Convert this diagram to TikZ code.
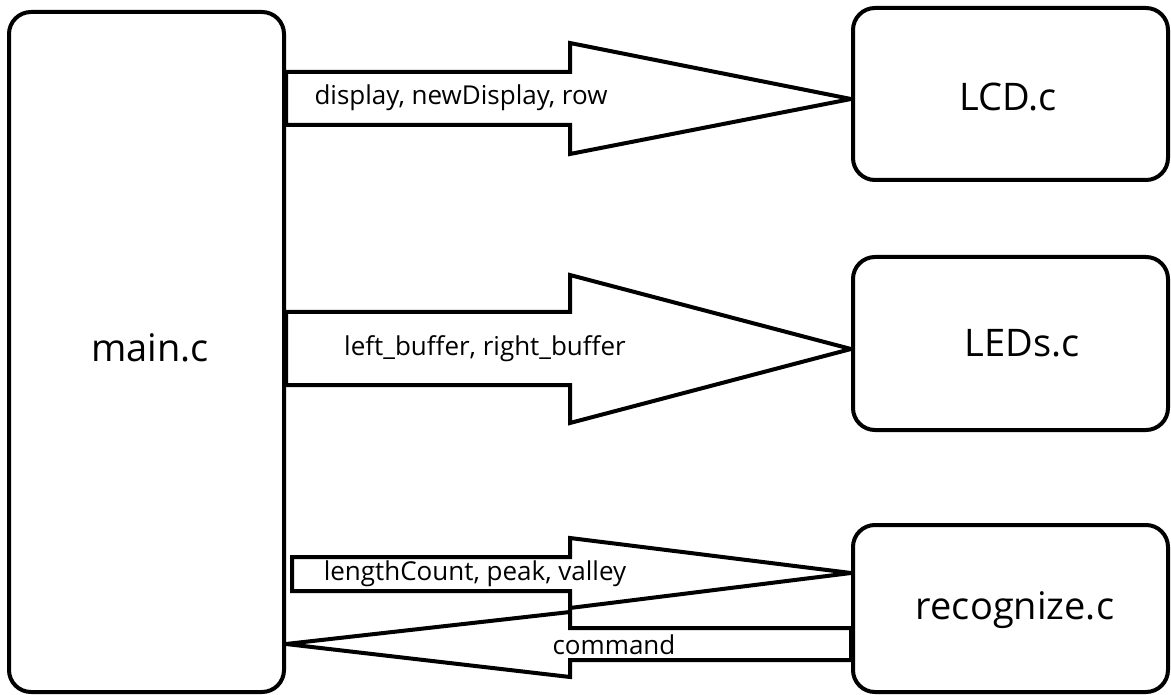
\documentclass[tikz,border=0pt]{standalone}
\usepackage{fontspec}
\setmainfont{Open Sans}
\begin{document}
\begin{tikzpicture}[x=1pt,y=-1pt,
  module/.style={draw=black,line width=4pt,rounded corners=22pt,inner sep=0pt},
  blockarrow/.style={draw=black,line width=4pt,line join=miter,miter limit=2},
  bigtext/.style={font=\fontsize{38}{42}\selectfont,inner sep=0pt},
  smalltext/.style={font=\fontsize{26}{30}\selectfont,inner sep=0pt}]
\useasboundingbox (0,0) rectangle (1171,695);

% modules
\node[module,minimum width=275pt,minimum height=680pt] (main) at (146.5,352) {};
\node[module,minimum width=315pt,minimum height=172pt] (lcd) at (1010.5,94) {};
\node[module,minimum width=315pt,minimum height=173pt] (leds) at (1010.5,343.5) {};
\node[module,minimum width=315pt,minimum height=167pt] (rec) at (1010.5,608.5) {};

\node[bigtext] (maintext) at (150,348) {main.c};
\node[bigtext] (lcdtext) at (1008,97) {LCD.c};
\node[bigtext] (ledstext) at (1022,343) {LEDs.c};
\node[bigtext] (rectext) at (1015,610) {recognize.c};

% main.c -> LCD.c
\draw[blockarrow] (main.east |- 0,72) -- (570,72) -- (570,43) -- (lcd.west |- 0,99)
  -- (570,154) -- (570,125) -- (main.east |- 0,125) -- cycle;
\node[smalltext] (l1) at (461,98) {display, newDisplay, row};

% main.c -> LEDs.c
\draw[blockarrow] (main.east |- 0,312) -- (570,312) -- (570,275) -- (leds.west |- 0,349)
  -- (570,423) -- (570,385) -- (main.east |- 0,385) -- cycle;
\node[smalltext] (l2) at (485,349) {left\_buffer, right\_buffer};

% main.c -> recognize.c
\draw[blockarrow] ([xshift=6pt]main.east |- 0,557) -- (570,557) -- (570,538) -- (rec.west |- 0,573)
  -- (570,608) -- (570,591) -- ([xshift=6pt]main.east |- 0,591) -- cycle;
\node[smalltext] (l3) at (475,574) {lengthCount, peak, valley};

% recognize.c -> main.c
\draw[blockarrow] (rec.west |- 0,628) -- (570,628) -- (570,612) -- (main.east |- 0,644)
  -- (570,677) -- (570,660) -- (rec.west |- 0,660) -- cycle;
\node[smalltext] (l4) at (614,645) {command};
\end{tikzpicture}
\end{document}
